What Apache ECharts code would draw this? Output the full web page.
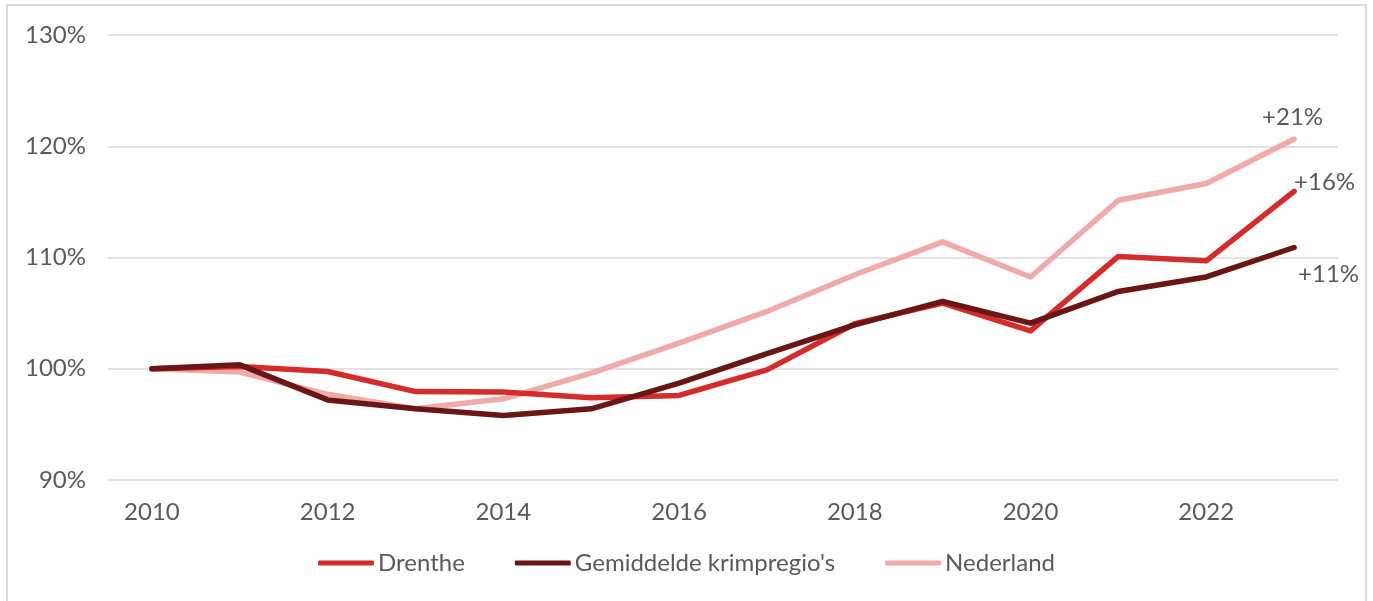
<!DOCTYPE html>
<html>
<head>
<meta charset="utf-8">
<script src="https://cdn.jsdelivr.net/npm/echarts@6/dist/echarts.min.js"></script>
<style>
  html, body { margin: 0; padding: 0; background: #fff; }
  #frame {
    position: absolute; left: 6px; top: 4px; width: 1361px; height: 610px;
    border: 2px solid #dadada; border-bottom: none; box-sizing: border-box;
  }
  #chart { position: absolute; left: 0; top: 0; width: 1373px; height: 601px; }
</style>
</head>
<body>
<div id="frame"></div>
<div id="chart"></div>
<script>
// jaren (x-as)
const years = ['2010', '2011', '2012', '2013', '2014', '2015', '2016', '2017', '2018', '2019', '2020', '2021', '2022', '2023']
// index, 2010 = 100%
const drenthe = [100, 100.2, 99.75, 97.95, 97.9, 97.4, 97.6, 99.9, 104.05, 105.9, 103.4, 110.1, 109.7, 115.95]
const krimp = [100, 100.35, 97.2, 96.4, 95.8, 96.4, 98.7, 101.35, 103.95, 106.05, 104.1, 106.95, 108.25, 110.9]
const nederland = [100, 99.7, 97.7, 96.4, 97.3, 99.6, 102.3, 105.15, 108.45, 111.4, 108.25, 115.15, 116.65, 120.65]
// eindlabels
const endTexts = ['+16%', '+11%', '+21%']

const font = 'Lato, "Open Sans", sans-serif'
const textColor = '#595959'
const fontSize = 24

const option = {
  animation: false,
  color: ['#d42b2b', '#6b1616', '#efaaaa'],
  grid: { left: 108, right: 35, top: 35, bottom: 121 },
  legend: {
    bottom: 21,
    left: 'center',
    itemWidth: 56,
    itemHeight: 5,
    itemGap: 50,
    icon: 'roundRect',
    textStyle: { fontFamily: font, fontSize: fontSize, color: textColor, padding: [0, 0, 0, -1] },
    data: ['Drenthe', "Gemiddelde krimpregio's", 'Nederland'],
  },
  xAxis: {
    type: 'category',
    boundaryGap: true,
    data: years,
    axisLine: { show: false },
    axisTick: { show: false },
    axisLabel: { interval: 1, margin: 20, fontFamily: font, fontSize: fontSize, color: textColor },
  },
  yAxis: {
    type: 'value',
    min: 90,
    max: 130,
    interval: 10,
    axisLine: { show: false },
    axisTick: { show: false },
    axisLabel: { margin: 22, fontFamily: font, fontSize: fontSize, color: textColor, formatter: '{value}%' },
    splitLine: { lineStyle: { color: '#d9d9d9', width: 1.5 } },
  },
  series: [
    {
      name: 'Drenthe',
      type: 'line',
      data: drenthe,
      symbol: 'none',
      z: 3,
      lineStyle: { width: 5.5, cap: 'round', join: 'round' },
      endLabel: { show: true, formatter: endTexts[0], offset: [-8, -9], fontFamily: font, fontSize: fontSize, color: textColor },
    },
    {
      name: "Gemiddelde krimpregio's",
      type: 'line',
      data: krimp,
      symbol: 'none',
      z: 4,
      lineStyle: { width: 5.5, cap: 'round', join: 'round' },
      endLabel: { show: true, formatter: endTexts[1], offset: [-4, 27], fontFamily: font, fontSize: fontSize, color: textColor },
    },
    {
      name: 'Nederland',
      type: 'line',
      data: nederland,
      symbol: 'none',
      z: 2,
      lineStyle: { width: 5.5, cap: 'round', join: 'round' },
      endLabel: { show: true, formatter: endTexts[2], offset: [-40, -22], fontFamily: font, fontSize: fontSize, color: textColor },
    },
  ],
}

const myChart = echarts.init(document.getElementById('chart'))
myChart.setOption(option, true)
</script>
</body>
</html>
